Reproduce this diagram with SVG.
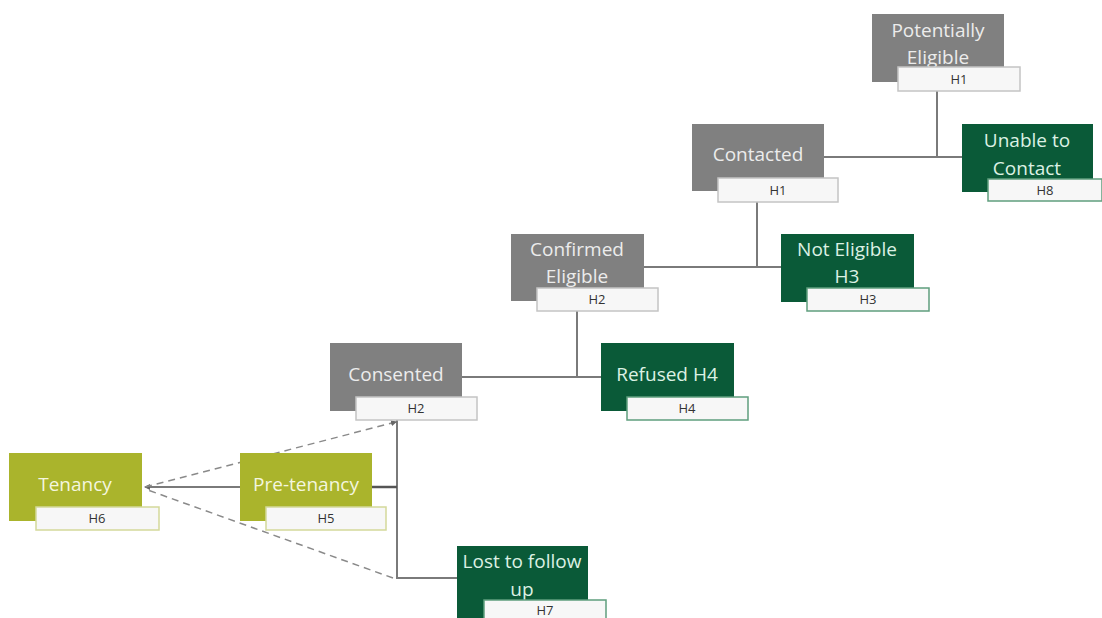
<svg xmlns="http://www.w3.org/2000/svg" width="1102" height="618" viewBox="0 0 1102 618">
<defs>
<style>
.gray{fill:#808080}
.green{fill:#0a5a38}
.olive{fill:#aab42c}
.lbl{fill:#f7f7f7;stroke-width:1.5}
.lg{stroke:#c4c4c4}
.lgr{stroke:#5f9e7e}
.lol{stroke:#d4d99a}
.t{font-family:"Open Sans","Liberation Sans",sans-serif;font-size:19px;text-anchor:middle}
.tg{fill:#ececec}
.tgr{fill:#dcf1e4}
.to{fill:#f4f6df}
.h{font-family:"Open Sans","Liberation Sans",sans-serif;font-size:13px;fill:#333;text-anchor:middle}
.c{fill:none;stroke:#7a7a7a;stroke-width:2}
.d{fill:none;stroke:#8a8a8a;stroke-width:1.5;stroke-dasharray:7 5}
</style>
<marker id="arr" markerWidth="6" markerHeight="6" refX="5" refY="3" orient="auto" markerUnits="userSpaceOnUse">
<path d="M0,0 L6,3 L0,6 Z" fill="#666"/>
</marker>
</defs>
<rect width="1102" height="618" fill="#ffffff"/>
<g id="connectors">
<path class="c" d="M937,91 V157"/>
<path class="c" d="M824,157 H962"/>
<path class="c" d="M757,202 V267"/>
<path class="c" d="M644,267 H781"/>
<path class="c" d="M577,311 V377"/>
<path class="c" d="M462,377 H601"/>
<path class="c" d="M397,420 V578 H457"/>
<path class="c" d="M372,487 H397" style="stroke:#555;stroke-width:2.5"/>
<path class="c" d="M240,487 H145" marker-end="url(#arr)"/>
<path class="d" d="M145,487 L396,422" marker-end="url(#arr)"/>
<path class="d" d="M393,578 L145,489"/>
</g>
<g id="potentially-eligible">
<rect class="gray" x="872" y="14" width="132" height="68"/>
<text class="t tg" x="938" y="37">Potentially</text>
<text class="t tg" x="938" y="64">Eligible</text>
<rect class="lbl lg" x="898" y="67" width="122" height="24"/>
<text class="h" x="959" y="84">H1</text>
</g>
<g id="unable-to-contact">
<rect class="green" x="962" y="124" width="131" height="68"/>
<text class="t tgr" x="1027" y="147">Unable to</text>
<text class="t tgr" x="1027" y="175">Contact</text>
<rect class="lbl lgr" x="988" y="179" width="114" height="22"/>
<text class="h" x="1045" y="195">H8</text>
</g>
<g id="contacted">
<rect class="gray" x="692" y="124" width="132" height="67"/>
<text class="t tg" x="758" y="161">Contacted</text>
<rect class="lbl lg" x="718" y="178" width="120" height="24"/>
<text class="h" x="778" y="195">H1</text>
</g>
<g id="not-eligible">
<rect class="green" x="781" y="234" width="133" height="68"/>
<text class="t tgr" x="847" y="256">Not Eligible</text>
<text class="t tgr" x="847" y="283">H3</text>
<rect class="lbl lgr" x="807" y="288" width="122" height="23"/>
<text class="h" x="868" y="304">H3</text>
</g>
<g id="confirmed-eligible">
<rect class="gray" x="511" y="234" width="133" height="67"/>
<text class="t tg" x="577" y="256">Confirmed</text>
<text class="t tg" x="577" y="283">Eligible</text>
<rect class="lbl lg" x="537" y="288" width="121" height="23"/>
<text class="h" x="597" y="304">H2</text>
</g>
<g id="consented">
<rect class="gray" x="330" y="343" width="132" height="68"/>
<text class="t tg" x="396" y="381">Consented</text>
<rect class="lbl lg" x="356" y="397" width="121" height="23"/>
<text class="h" x="416" y="413">H2</text>
</g>
<g id="refused">
<rect class="green" x="601" y="343" width="133" height="68"/>
<text class="t tgr" x="667" y="381">Refused H4</text>
<rect class="lbl lgr" x="627" y="397" width="121" height="23"/>
<text class="h" x="687" y="413">H4</text>
</g>
<g id="tenancy">
<rect class="olive" x="9" y="453" width="133" height="68"/>
<text class="t to" x="75" y="491">Tenancy</text>
<rect class="lbl lol" x="36" y="507" width="123" height="23"/>
<text class="h" x="97" y="523">H6</text>
</g>
<g id="pre-tenancy">
<rect class="olive" x="240" y="453" width="132" height="68"/>
<text class="t to" x="306" y="491">Pre-tenancy</text>
<rect class="lbl lol" x="266" y="507" width="120" height="23"/>
<text class="h" x="326" y="523">H5</text>
</g>
<g id="lost-to-follow-up">
<rect class="green" x="457" y="546" width="131" height="72"/>
<text class="t tgr" x="522" y="568">Lost to follow</text>
<text class="t tgr" x="522" y="596">up</text>
<rect class="lbl lgr" x="484" y="600" width="122" height="22"/>
<text class="h" x="545" y="615">H7</text>
</g>
</svg>
